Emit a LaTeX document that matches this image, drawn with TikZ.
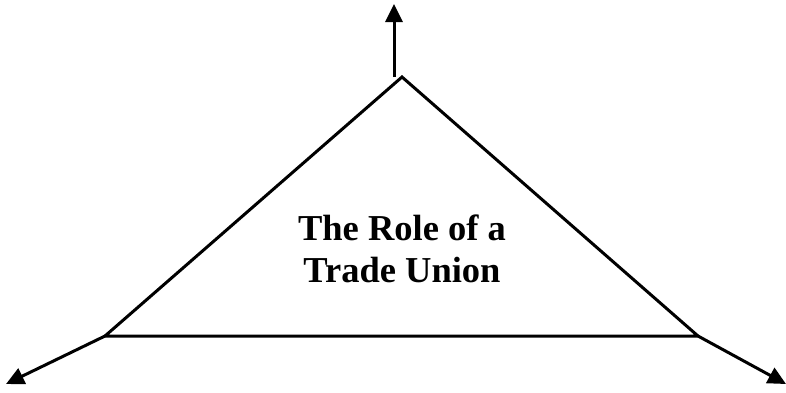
\documentclass[tikz,border=0pt]{standalone}
\usepackage{fontspec}
\setmainfont{Liberation Serif}
\usetikzlibrary{arrows.meta, positioning}

\begin{document}
\begin{tikzpicture}[
    x=1pt, y=-1pt,
    edge/.style={line width=3pt, line join=miter},
    arrow/.style={-{Triangle[length=18pt, width=17pt]}, line width=3pt},
    title/.style={align=center, font=\fontsize{36.5}{42}\selectfont\bfseries}
]
    \useasboundingbox (0,0) rectangle (786,392);

    \coordinate (apex)  at (402,77);
    \coordinate (baseL) at (105,336);
    \coordinate (baseR) at (698,336);
    \coordinate (upFoot) at (394,77);
    \coordinate (upEnd)   at (394,4);
    \coordinate (leftEnd) at (6,384);
    \coordinate (rightEnd) at (786,384);

    \draw[edge] (apex) -- (baseR) -- (baseL) -- cycle;

    \node[title] (role) at (402,249) {The Role of a\\Trade Union};

    \draw[arrow] (upFoot) -- (upEnd);
    \draw[arrow] (baseL) -- (leftEnd);
    \draw[arrow] (baseR) -- (rightEnd);
\end{tikzpicture}
\end{document}
